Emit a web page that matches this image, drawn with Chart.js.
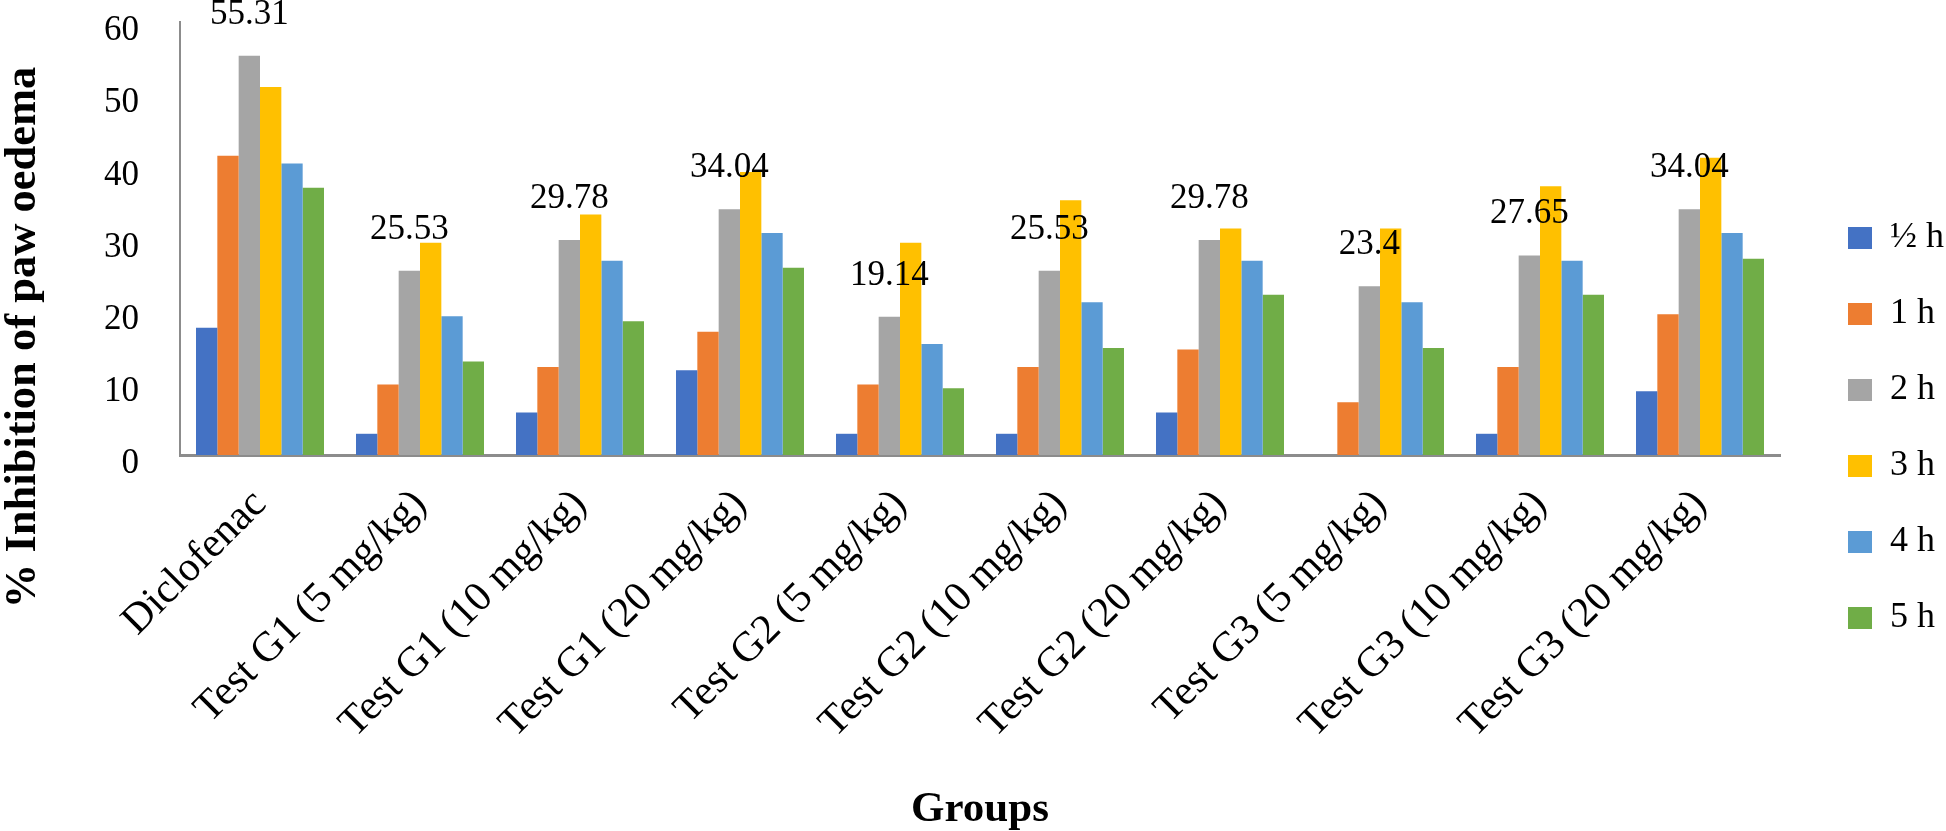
<!DOCTYPE html>
<html>
<head>
<meta charset="utf-8">
<script src="https://cdn.jsdelivr.net/npm/chart.js@4"></script>
<style>
html,body{margin:0;padding:0;background:#fff;}
#wrap{width:1946px;height:831px;position:relative;}
</style>
</head>
<body>
<div id="wrap"><canvas id="c" width="1946" height="831"></canvas></div>
<script>
const groups = ['Diclofenac','Test G1 (5 mg/kg)','Test G1 (10 mg/kg)','Test G1 (20 mg/kg)','Test G2 (5 mg/kg)','Test G2 (10 mg/kg)','Test G2 (20 mg/kg)','Test G3 (5 mg/kg)','Test G3 (10 mg/kg)','Test G3 (20 mg/kg)'];
const seriesNames = ['\u00BD h','1 h','2 h','3 h','4 h','5 h'];
const halfHour  = [17.65, 2.94, 5.88, 11.76, 2.94, 2.94, 5.88, 0, 2.94, 8.82];
const oneHour   = [41.46, 9.76, 12.20, 17.07, 9.76, 12.20, 14.63, 7.32, 12.20, 19.51];
const twoHour   = [55.31, 25.53, 29.78, 34.04, 19.14, 25.53, 29.78, 23.4, 27.65, 34.04];
const threeHour = [50.98, 29.41, 33.33, 39.22, 29.41, 35.29, 31.37, 31.37, 37.25, 41.18];
const fourHour  = [40.38, 19.23, 26.92, 30.77, 15.38, 21.15, 26.92, 21.15, 26.92, 30.77];
const fiveHour  = [37.04, 12.96, 18.52, 25.93, 9.26, 14.81, 22.22, 14.81, 22.22, 27.2];
const yTickMin = 0, yTickMax = 60, yTickStep = 10;
const seriesColors = ['#4472C4','#ED7D31','#A5A5A5','#FFC000','#5B9BD5','#70AD47'];
const yTitle = '% Inhibition of paw oedema';
const xTitle = 'Groups';

const FONT = "'Liberation Serif','Times New Roman',serif";
const allSeries = [halfHour, oneHour, twoHour, threeHour, fourHour, fiveHour];

const legendFit = {
  id: 'legendFit',
  beforeInit(chart) {
    const L = chart.legend;
    if (!L) return;
    const f = L.fit;
    L.fit = function () { f.call(this); this.width = 166; };
  }
};
const legendShift = {
  id: 'legendShift',
  afterLayout(chart) {
    const L = chart.legend;
    if (!L) return;
    const pad = L.options.labels.padding;
    const colH = (L.columnSizes && L.columnSizes[0]) ? L.columnSizes[0].height : 456;
    const cur = (L.top + pad + L.bottom - colH) / 2;
    const dy = 220 - cur;
    L.top += dy; L.bottom += dy;
    L.left += 28; L.right += 28;
  }
};
const grayLabels = {
  id: 'grayLabels',
  afterDatasetsDraw(chart) {
    const meta = chart.getDatasetMeta(2);
    const ctx = chart.ctx;
    ctx.save();
    ctx.font = '35px ' + FONT;
    ctx.fillStyle = '#000';
    ctx.textAlign = 'center';
    ctx.textBaseline = 'alphabetic';
    meta.data.forEach((bar, i) => {
      ctx.fillText(String(twoHour[i]), bar.x, bar.y - 32);
    });
    ctx.restore();
  }
};
const yTitlePlugin = {
  id: 'yTitlePlugin',
  afterDraw(chart) {
    const ctx = chart.ctx;
    const ca = chart.chartArea;
    ctx.save();
    ctx.translate(35, (ca.top + ca.bottom) / 2 + 99);
    ctx.rotate(-Math.PI / 2);
    ctx.font = 'bold 44.5px ' + FONT;
    ctx.fillStyle = '#000';
    ctx.textAlign = 'center';
    ctx.textBaseline = 'alphabetic';
    ctx.fillText(yTitle, 0, 0);
    ctx.restore();
  }
};

new Chart(document.getElementById('c'), {
  type: 'bar',
  data: {
    labels: groups,
    datasets: allSeries.map((d, i) => ({
      label: seriesNames[i],
      data: d,
      backgroundColor: seriesColors[i],
      borderWidth: 0,
      categoryPercentage: 0.8,
      barPercentage: 1.0
    }))
  },
  options: {
    responsive: false,
    animation: false,
    devicePixelRatio: 1,
    layout: { padding: { top: 22, left: 0, right: 0, bottom: 0 } },
    plugins: {
      legend: {
        position: 'right',
        align: 'center',
        labels: {
          color: '#000',
          font: { family: FONT, size: 36 },
          boxWidth: 24,
          boxHeight: 22,
          padding: 40
        }
      },
      tooltip: { enabled: false }
    },
    scales: {
      x: {
        grid: { display: false, drawTicks: false },
        border: { display: true, color: '#8c8c8c', width: 3 },
        ticks: {
          color: '#000',
          font: { family: FONT, size: 42 },
          maxRotation: 45,
          minRotation: 45,
          autoSkip: false,
          padding: 25
        },
        title: {
          display: true,
          text: xTitle,
          color: '#000',
          font: { family: FONT, size: 43, weight: 'bold', lineHeight: 1.0 },
          padding: { top: 0, bottom: 0 }
        },
        afterFit(scale) { scale.height = 376; scale.paddingLeft = 0; scale.paddingRight = 0; }
      },
      y: {
        min: yTickMin,
        max: yTickMax,
        grid: { display: false, drawTicks: false },
        border: { display: true, color: '#8c8c8c', width: 2 },
        ticks: {
          stepSize: yTickStep,
          color: '#000',
          font: { family: FONT, size: 35 },
          padding: 41,
          labelOffset: 9
        },
        afterFit(scale) { scale.width = 180; scale.paddingTop = 0; scale.paddingBottom = 0; }
      }
    }
  },
  plugins: [legendFit, legendShift, grayLabels, yTitlePlugin]
});
</script>
</body>
</html>
